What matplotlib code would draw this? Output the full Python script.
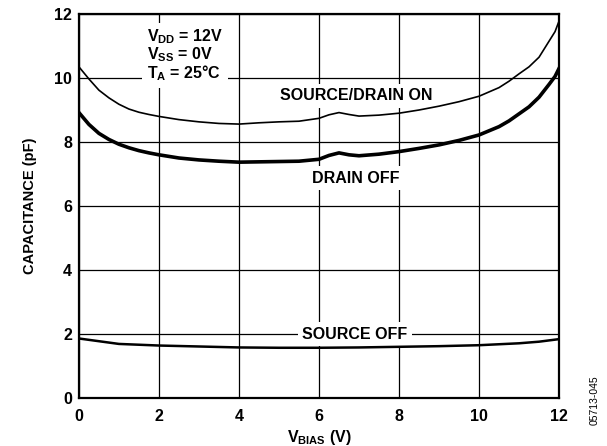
import matplotlib
matplotlib.use("Agg")
import matplotlib.pyplot as plt

plt.rcParams['font.family'] = ['Liberation Sans', 'DejaVu Sans']
plt.rcParams['mathtext.fontset'] = 'custom'
plt.rcParams['mathtext.rm'] = 'Liberation Sans:bold'
plt.rcParams['mathtext.it'] = 'Liberation Sans:bold'
plt.rcParams['mathtext.bf'] = 'Liberation Sans:bold'

# Data
x_on = [0, 0.25, 0.5, 0.75, 1, 1.25, 1.5, 1.75, 2, 2.5, 3, 3.5, 4, 4.5, 5, 5.5, 6, 6.25,
        6.5, 6.75, 7, 7.5, 8, 8.5, 9, 9.5, 10, 10.5, 10.75, 11, 11.25, 11.5, 11.75, 11.9, 12]
sd_on = [10.35, 9.97, 9.62, 9.38, 9.18, 9.03, 8.93, 8.86, 8.80, 8.70, 8.63, 8.58, 8.56,
         8.60, 8.63, 8.65, 8.74, 8.85, 8.92, 8.86, 8.81, 8.84, 8.90, 9.00, 9.12, 9.26,
         9.43, 9.70, 9.90, 10.13, 10.35, 10.65, 11.15, 11.45, 11.78]
drain_off = [8.92, 8.55, 8.27, 8.08, 7.93, 7.82, 7.73, 7.66, 7.60, 7.50, 7.44, 7.40, 7.37,
             7.38, 7.39, 7.40, 7.46, 7.58, 7.66, 7.60, 7.57, 7.62, 7.70, 7.80, 7.91, 8.05,
             8.22, 8.48, 8.66, 8.88, 9.10, 9.40, 9.80, 10.05, 10.30]
x_src = [0, 1, 2, 3, 4, 5, 6, 7, 8, 9, 10, 11, 11.5, 12]
source_off = [1.86, 1.69, 1.64, 1.61, 1.58, 1.57, 1.57, 1.58, 1.60, 1.62, 1.65, 1.71, 1.76, 1.84]

xticks = [0, 2, 4, 6, 8, 10, 12]
yticks = [0, 2, 4, 6, 8, 10, 12]

fig = plt.figure(figsize=(6.07, 4.46), dpi=100)
ax = fig.add_axes([0.130, 0.1076, 0.791, 0.861])

ax.plot(x_on, sd_on, color='black', lw=1.2, zorder=5, solid_joinstyle='round')
ax.plot(x_on, drain_off, color='black', lw=2.6, zorder=5, solid_joinstyle='round')
ax.plot(x_src, source_off, color='black', lw=1.8, zorder=5, solid_joinstyle='round')

ax.set_xlim(0, 12)
ax.set_ylim(0, 12)
ax.set_xticks(xticks)
ax.set_yticks(yticks)
ax.set_xticklabels([str(t) for t in xticks], fontsize=11.5, fontweight='bold')
ax.set_yticklabels([str(t) for t in yticks], fontsize=11.5, fontweight='bold')
ax.tick_params(axis='x', length=0, pad=8)
ax.tick_params(axis='y', length=0, pad=5)
ax.grid(True, color='black', lw=0.9, zorder=1)
ax.set_axisbelow(True)
for s in ax.spines.values():
    s.set_linewidth(1.6)

ax.set_xlabel(r'$V_{BIAS}$ (V)', fontsize=11.5, fontweight='bold', labelpad=3)
ax.set_ylabel('CAPACITANCE (pF)', fontsize=10.5, fontweight='bold', labelpad=12)

box = dict(facecolor='white', edgecolor='none', boxstyle='square,pad=0.3')
ax.text(1.7, 10.7, '$V_{DD}$ = 12V\n$V_{SS}$ = 0V\n$T_A$ = 25°C', fontsize=11.5,
        fontweight='bold', ha='left', va='center', linespacing=0.95, bbox=box, zorder=3)
ax.text(6.93, 9.44, 'SOURCE/DRAIN ON', fontsize=11.5, fontweight='bold',
        ha='center', va='center', bbox=box, zorder=3)
ax.text(6.93, 6.87, 'DRAIN OFF', fontsize=11.5, fontweight='bold',
        ha='center', va='center', bbox=box, zorder=3)
ax.text(6.9, 2.0, 'SOURCE OFF', fontsize=11.5, fontweight='bold',
        ha='center', va='center', bbox=box, zorder=3)

fig.text(0.980, 0.103, '05713-045', rotation=90, fontsize=7.5, ha='center', va='center')

fig.savefig('out.png', dpi=100)
